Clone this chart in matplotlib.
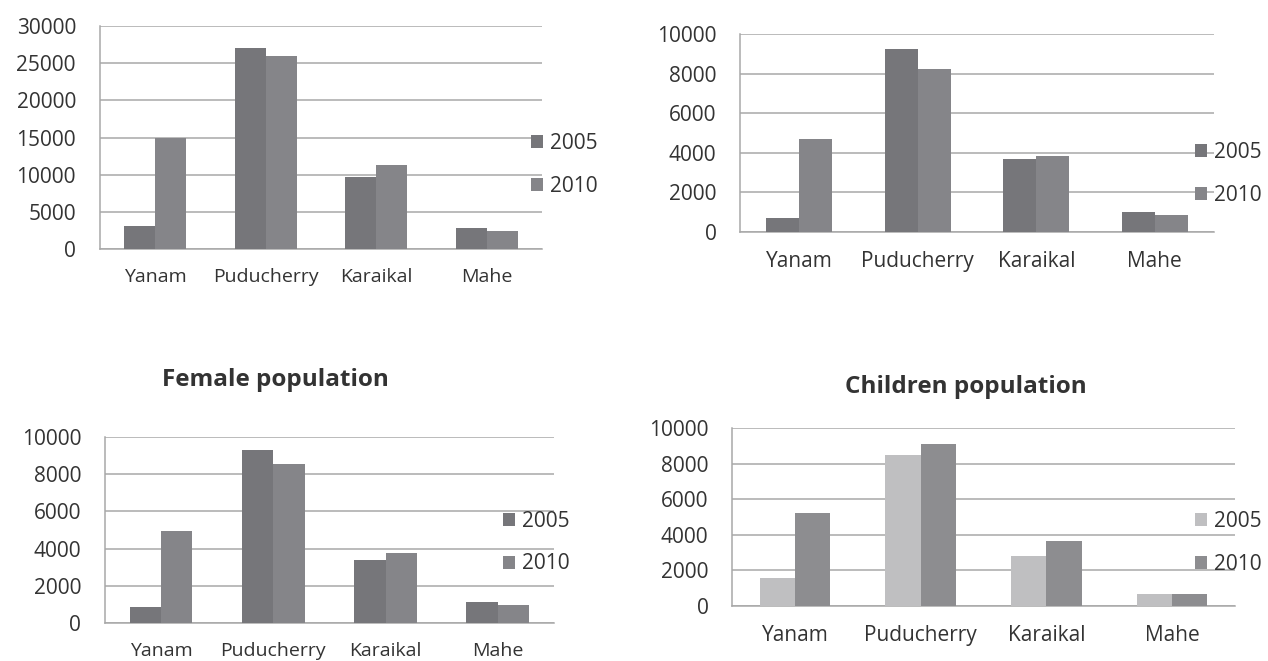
import matplotlib
matplotlib.use("Agg")
import matplotlib.pyplot as plt
import numpy as np

plt.rcParams['font.family'] = ['Open Sans', 'DejaVu Sans']

regions = ["Yanam", "Puducherry", "Karaikal", "Mahe"]
years = ["2005", "2010"]

total_2005 = [3100, 27000, 9700, 2800]
total_2010 = [15000, 26000, 11300, 2400]

male_2005 = [700, 9250, 3700, 1000]
male_2010 = [4700, 8250, 3850, 850]

female_2005 = [850, 9300, 3400, 1150]
female_2010 = [4950, 8550, 3750, 950]

children_2005 = [1600, 8500, 2800, 700]
children_2010 = [5200, 9100, 3650, 700]

W, H = 1268, 661
fig = plt.figure(figsize=(W / 100, H / 100), dpi=100)
fig.patch.set_facecolor("white")

TEXT = "#333333"
GRID = "#a8a8a8"


def px_axes(x0, x1, ytop, ybot):
    return fig.add_axes([x0 / W, (H - ybot) / H, (x1 - x0) / W, (ybot - ytop) / H])


def panel(box, v05, v10, ymax, step, colors, leg_xy, xfs=14, title=None, title_xy=None):
    ax = px_axes(*box)
    x = np.arange(len(regions))
    bw = 0.28
    b1 = ax.bar(x - bw / 2, v05, bw, color=colors[0], label=years[0], zorder=3)
    b2 = ax.bar(x + bw / 2, v10, bw, color=colors[1], label=years[1], zorder=3)
    ax.set_xlim(-0.5, len(regions) - 0.5)
    ax.set_ylim(0, ymax)
    ax.set_yticks(np.arange(0, ymax + 1, step))
    ax.set_xticks(x)
    ax.set_xticklabels(regions)
    ax.yaxis.grid(True, color=GRID, linewidth=1.1, zorder=0)
    ax.set_axisbelow(True)
    for s in ("top", "right"):
        ax.spines[s].set_visible(False)
    for s in ("left", "bottom"):
        ax.spines[s].set_color(GRID)
        ax.spines[s].set_linewidth(1.1)
    ax.tick_params(axis="both", length=0, colors=TEXT)
    ax.tick_params(axis="x", pad=14, labelsize=xfs)
    ax.tick_params(axis="y", pad=17, labelsize=15)
    leg = ax.legend(handles=[b1, b2], loc="center left", bbox_to_anchor=leg_xy,
                    frameon=False, fontsize=15, handlelength=0.58, handleheight=0.58,
                    handletextpad=0.34, labelspacing=1.05, borderpad=0, borderaxespad=0)
    for t in leg.get_texts():
        t.set_color(TEXT)
    if title:
        fig.text(title_xy[0] / W, 1 - title_xy[1] / H, title, ha="center", va="center",
                 fontsize=17.5, fontweight="bold", color=TEXT)
    return ax


dark = ("#76767a", "#858589")
light = ("#bfbfc1", "#8d8d90")

panel((99.6, 542.5, 26, 249), total_2005, total_2010, 30000, 5000, dark, (0.973, 0.377))
panel((740, 1214, 34, 232), male_2005, male_2010, 10000, 2000, dark, (0.959, 0.293), xfs=15)
panel((104.8, 554, 437, 623), female_2005, female_2010, 10000, 2000, dark, (0.886, 0.433),
      title="Female population", title_xy=(275, 380))
panel((732, 1235, 428, 606), children_2005, children_2010, 10000, 2000, light, (0.920, 0.354),
      xfs=15, title="Children population", title_xy=(966, 387))

fig.savefig("out.png", dpi=100, facecolor="white")
